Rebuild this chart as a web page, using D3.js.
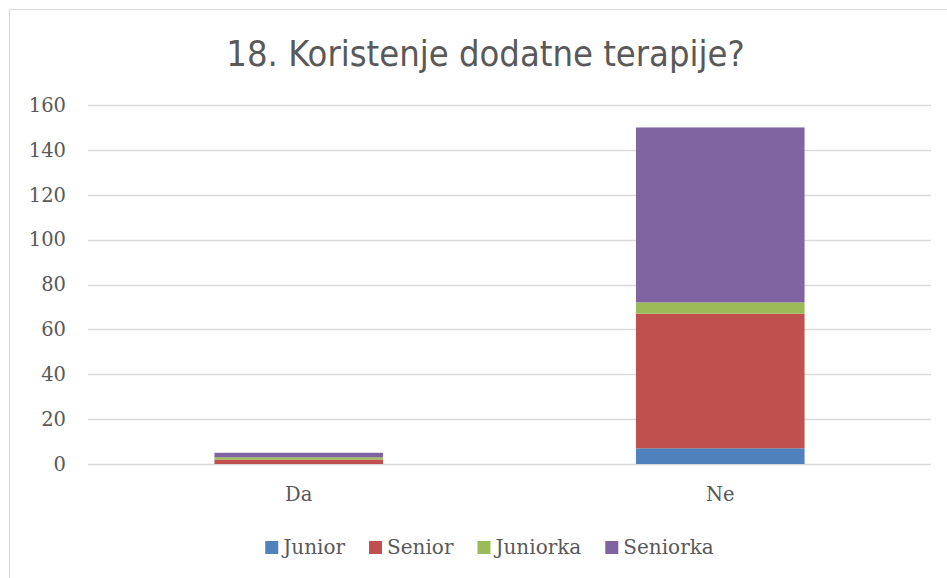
<!DOCTYPE html>
<html>
<head>
<meta charset="utf-8">
<script src="https://cdn.jsdelivr.net/npm/d3@7"></script>
<style>
  body { margin: 0; background: #fff; }
  svg { display: block; }
</style>
</head>
<body>
<div id="vis"></div>
<script>
var width = 947;
var height = 578;

var title = "18. Koristenje dodatne terapije?";
var categories = ["Da", "Ne"];
var seriesNames = ["Junior", "Senior", "Juniorka", "Seniorka"];
var seriesColors = ["#4f81bd", "#c0504d", "#9bbb59", "#8064a2"];
// values per category, in series order
var junior = [0, 7];
var senior = [2, 60];
var juniorka = [1, 5];
var seniorka = [2, 78];
var yTicks = [0, 20, 40, 60, 80, 100, 120, 140, 160];

var labelFont = "'DejaVu Serif', 'Liberation Serif', serif";
var textColor = "#595959";

var margin = { left: 88, right: 16, top: 105, bottom: 114 };

var rows = categories.map(function (c, i) {
    return { cat: c, Junior: junior[i], Senior: senior[i], Juniorka: juniorka[i], Seniorka: seniorka[i] };
});
var stacked = d3.stack().keys(seriesNames)(rows);

var svg = d3.select('#vis').append('svg')
    .attr('width', width)
    .attr('height', height);

// chart frame
svg.append('rect')
    .attr('x', 9.5).attr('y', 9.5)
    .attr('width', width + 10).attr('height', height + 10)
    .attr('fill', 'none')
    .attr('stroke', '#d9d9d9');

var x = d3.scaleBand()
    .domain(categories)
    .range([margin.left, width - margin.right])
    .paddingInner(0.6)
    .paddingOuter(0.3);

var y = d3.scaleLinear()
    .domain([0, 160])
    .range([height - margin.bottom, margin.top]);

// gridlines
svg.append('g').selectAll('line')
    .data(yTicks)
    .enter().append('line')
    .attr('x1', margin.left)
    .attr('x2', width - margin.right)
    .attr('y1', function (d) { return Math.round(y(d)) + 0.5; })
    .attr('y2', function (d) { return Math.round(y(d)) + 0.5; })
    .attr('stroke', '#d9d9d9')
    .attr('stroke-width', 1.5);

// y tick labels
svg.append('g').selectAll('text')
    .data(yTicks)
    .enter().append('text')
    .attr('x', 66)
    .attr('y', function (d) { return y(d); })
    .attr('dy', '0.35em')
    .attr('text-anchor', 'end')
    .attr('font-family', labelFont)
    .attr('font-size', 19.5)
    .attr('fill', textColor)
    .text(function (d) { return d; });

// bars
svg.append('g').selectAll('g')
    .data(stacked)
    .enter().append('g')
    .attr('fill', function (d, i) { return seriesColors[i]; })
    .selectAll('rect')
    .data(function (d) { return d; })
    .enter().append('rect')
    .attr('x', function (d) { return x(d.data.cat); })
    .attr('width', x.bandwidth())
    .attr('y', function (d) { return y(d[1]); })
    .attr('height', function (d) { return y(d[0]) - y(d[1]); });

// category labels
svg.append('g').selectAll('text')
    .data(categories)
    .enter().append('text')
    .attr('x', function (d) { return x(d) + x.bandwidth() / 2; })
    .attr('y', 501)
    .attr('text-anchor', 'middle')
    .attr('font-family', labelFont)
    .attr('font-size', 19.5)
    .attr('fill', textColor)
    .text(function (d) { return d; });

// title
svg.append('text')
    .attr('x', width / 2 + 12)
    .attr('y', 66)
    .attr('text-anchor', 'middle')
    .attr('font-family', "'Liberation Sans Narrow', 'DejaVu Sans Condensed', sans-serif")
    .attr('font-size', 36)
    .attr('fill', textColor)
    .text(title);

// legend
var legend = svg.append('g');
var items = legend.selectAll('g')
    .data(seriesNames)
    .enter().append('g');
items.append('rect')
    .attr('width', 13).attr('height', 13)
    .attr('y', -6)
    .attr('fill', function (d, i) { return seriesColors[i]; });
items.append('text')
    .attr('x', 18)
    .attr('dy', '0.35em')
    .attr('font-family', labelFont)
    .attr('font-size', 20)
    .attr('fill', textColor)
    .text(function (d) { return d; });

var pos = 0;
var offsets = [];
items.each(function () {
    offsets.push(pos);
    pos += 18 + this.querySelector('text').getComputedTextLength() + 24;
});
var total = pos - 24;
var start = 489.5 - total / 2;
items.attr('transform', function (d, i) { return 'translate(' + (start + offsets[i]) + ',547)'; });
</script>
</body>
</html>
